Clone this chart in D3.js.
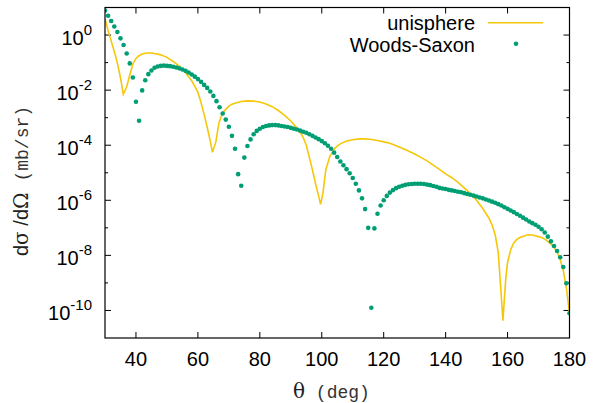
<!DOCTYPE html>
<html>
<head>
<meta charset="utf-8">
<script src="https://cdn.jsdelivr.net/npm/d3@7"></script>
<style>
  html, body { margin: 0; padding: 0; background: #fff; }
  svg { display: block; }
</style>
</head>
<body>
<svg id="chart" width="599" height="403"></svg>
<script>
// Scattering angle grid (deg) for the Woods-Saxon calculation
const wsTheta = [
  30, 31, 32, 33, 34, 35, 36, 37, 38, 39, 40, 41, 42, 43, 44, 45, 46, 47, 48, 49,
  50, 51, 52, 53, 54, 55, 56, 57, 58, 59, 60, 61, 62, 63, 64, 65, 66, 67, 68, 69,
  70, 71, 72, 73, 74, 75, 76, 77, 78, 79, 80, 81, 82, 83, 84, 85, 86, 87, 88, 89,
  90, 91, 92, 93, 94, 95, 96, 97, 98, 99, 100, 101, 102, 103, 104, 105, 106, 107, 108, 109,
  110, 111, 112, 113, 114, 115, 116, 117, 118, 119, 120, 121, 122, 123, 124, 125, 126, 127, 128, 129,
  130, 131, 132, 133, 134, 135, 136, 137, 138, 139, 140, 141, 142, 143, 144, 145, 146, 147, 148, 149,
  150, 151, 152, 153, 154, 155, 156, 157, 158, 159, 160, 161, 162, 163, 164, 165, 166, 167, 168, 169,
  170, 171, 172, 173, 174, 175, 176, 177, 178, 179, 180
];
// log10 of dσ/dΩ (mb/sr), Woods-Saxon potential
const wsLog10 = [
  0.89, 0.70, 0.51, 0.31, 0.11, -0.12, -0.36, -0.67, -1.03, -1.54,
  -2.42, -3.11, -2.01, -1.64, -1.42, -1.29, -1.19, -1.14, -1.12, -1.11,
  -1.12, -1.13, -1.15, -1.18, -1.21, -1.25, -1.30, -1.36, -1.43, -1.51,
  -1.60, -1.70, -1.81, -1.92, -2.05, -2.21, -2.40, -2.62, -2.85, -3.07,
  -3.33, -3.66, -4.13, -5.05, -5.47, -4.45, -4.03, -3.79, -3.60, -3.48,
  -3.40, -3.34, -3.30, -3.28, -3.27, -3.27, -3.28, -3.30, -3.32, -3.34,
  -3.37, -3.40, -3.43, -3.47, -3.51, -3.55, -3.60, -3.66, -3.72, -3.78,
  -3.85, -3.93, -4.02, -4.13, -4.27, -4.43, -4.59, -4.73, -4.87, -5.02,
  -5.19, -5.40, -5.64, -5.93, -6.32, -7.00, -9.90, -7.02, -6.49, -6.19,
  -6.00, -5.84, -5.72, -5.63, -5.56, -5.51, -5.47, -5.44, -5.42, -5.41,
  -5.40, -5.40, -5.40, -5.41, -5.43, -5.45, -5.48, -5.51, -5.55, -5.57,
  -5.59, -5.62, -5.64, -5.66, -5.69, -5.71, -5.74, -5.77, -5.80, -5.83,
  -5.86, -5.90, -5.93, -5.97, -6.01, -6.05, -6.09, -6.14, -6.19, -6.25,
  -6.31, -6.37, -6.43, -6.50, -6.56, -6.63, -6.70, -6.77, -6.83, -6.89,
  -6.96, -7.05, -7.17, -7.32, -7.49, -7.66, -7.84, -8.07, -8.42, -9.01,
  -10.10
];

// Uniform-sphere model: angle (deg) and log10 of dσ/dΩ (mb/sr)
const uniTheta = [
  30, 31, 32, 33, 34, 35, 35.9, 37, 38, 39, 40, 41, 42, 43, 44, 45, 46, 48, 50, 52,
  54, 56, 58, 59, 60, 61, 62, 63, 64, 64.7, 65.8, 66.8, 68, 69, 70, 71, 72.5, 74, 76, 78,
  80, 82, 84, 86, 88, 90, 92, 93, 94, 95, 96, 97, 98, 99, 99.6, 100.4, 101.3, 102.6, 104, 105,
  106, 108, 110, 112, 114, 116, 118, 120, 122, 124, 126, 128, 130, 132, 134, 136, 138, 140, 142, 144,
  146, 148, 150, 152, 154, 155, 156, 157, 157.6, 158.5, 159.4, 160, 161, 162, 163, 164, 166, 167, 168, 170,
  171, 172, 173, 174, 175, 176, 177, 178, 179, 180
];
const uniLog10 = [
  0.59, 0.17, -0.22, -0.60, -1.02, -1.55, -2.15, -1.88, -1.45, -1.05, -0.85, -0.75, -0.69, -0.66, -0.65, -0.65, -0.67, -0.72, -0.81, -0.96,
  -1.13, -1.37, -1.66, -1.86, -2.08, -2.45, -2.88, -3.35, -3.85, -4.26, -3.88, -3.18, -2.82, -2.70, -2.58, -2.51, -2.46, -2.41, -2.39, -2.40,
  -2.43, -2.50, -2.60, -2.74, -2.92, -3.12, -3.38, -3.52, -3.72, -4.00, -4.45, -4.90, -5.40, -5.85, -6.15, -5.73, -4.89, -4.41, -4.14, -4.03,
  -3.95, -3.85, -3.80, -3.77, -3.77, -3.79, -3.83, -3.88, -3.93, -4.02, -4.11, -4.21, -4.32, -4.44, -4.57, -4.72, -4.88, -5.04, -5.18, -5.35,
  -5.55, -5.76, -6.00, -6.30, -6.65, -6.90, -7.25, -7.90, -8.87, -10.37, -8.87, -8.25, -7.80, -7.55, -7.42, -7.35, -7.27, -7.25, -7.26, -7.32,
  -7.35, -7.41, -7.49, -7.59, -7.70, -7.88, -8.15, -8.55, -9.20, -10.10
];

const xTicks = [40, 60, 80, 100, 120, 140, 160, 180];
const yMajorExponents = [0, -2, -4, -6, -8, -10];
const yMinorExponents = [-1, -3, -5, -7, -9];
const seriesNames = ["unisphere", "Woods-Saxon"];

const colUni = "#f5c70a";
const colWS = "#009e73";

const svg = d3.select("#chart");
const L = 105, R = 569.5, T = 7.5, B = 338;

const x = d3.scaleLinear().domain([30, 180]).range([L, R]);
const y = d3.scaleLog().domain([1e-11, 10]).range([B, T]);

const sans = "'Liberation Sans', Arial, Helvetica, sans-serif";
const mono = "'Liberation Mono', 'Courier New', monospace";
const greek = "'DejaVu Serif', 'Liberation Serif', serif";

// clip to the plotting frame
svg.append("defs").append("clipPath").attr("id", "frame")
  .append("rect").attr("x", L).attr("y", T).attr("width", R - L).attr("height", B - T);

// inward ticks on all four sides
const tickG = svg.append("g").attr("stroke", "#000").attr("stroke-width", 1);
xTicks.forEach(t => {
  tickG.append("line").attr("x1", x(t)).attr("x2", x(t)).attr("y1", B).attr("y2", B - 6);
  tickG.append("line").attr("x1", x(t)).attr("x2", x(t)).attr("y1", T).attr("y2", T + 6);
});
yMajorExponents.forEach(e => {
  const yy = y(Math.pow(10, e));
  tickG.append("line").attr("x1", L).attr("x2", L + 6).attr("y1", yy).attr("y2", yy);
  tickG.append("line").attr("x1", R).attr("x2", R - 6).attr("y1", yy).attr("y2", yy);
});
yMinorExponents.forEach(e => {
  const yy = y(Math.pow(10, e));
  tickG.append("line").attr("x1", L).attr("x2", L + 3).attr("y1", yy).attr("y2", yy);
  tickG.append("line").attr("x1", R).attr("x2", R - 3).attr("y1", yy).attr("y2", yy);
});

// tick labels
const xLab = svg.append("g").attr("font-family", sans).attr("font-size", 20).attr("fill", "#000");
xTicks.forEach(t => {
  xLab.append("text").attr("x", x(t)).attr("y", 366).attr("text-anchor", "middle").text(t);
});
const yLab = svg.append("g").attr("font-family", sans).attr("fill", "#000");
yMajorExponents.forEach(e => {
  const yy = y(Math.pow(10, e));
  const txt = yLab.append("text").attr("x", 92).attr("y", yy + 9.5)
    .attr("text-anchor", "end").attr("font-size", 20);
  txt.append("tspan").text("10");
  txt.append("tspan").attr("dy", -9.5).attr("font-size", 15).text(e);
});

// uniform-sphere curve
const plot = svg.append("g").attr("clip-path", "url(#frame)");
const uniData = uniTheta.map((t, i) => [t, Math.pow(10, uniLog10[i])]);
plot.append("path")
  .datum(uniData)
  .attr("fill", "none")
  .attr("stroke", colUni)
  .attr("stroke-width", 1.6)
  .attr("stroke-linejoin", "miter")
  .attr("d", d3.line().x(d => x(d[0])).y(d => y(d[1])));

// Woods-Saxon points
const wsData = wsTheta.map((t, i) => [t, Math.pow(10, wsLog10[i])]);
plot.append("g").attr("fill", colWS)
  .selectAll("circle").data(wsData).join("circle")
  .attr("cx", d => x(d[0])).attr("cy", d => y(d[1])).attr("r", 2.3);

// frame
svg.append("rect").attr("x", L).attr("y", T).attr("width", R - L).attr("height", B - T)
  .attr("fill", "none").attr("stroke", "#000").attr("stroke-width", 1.2);

// legend
const leg = svg.append("g").attr("font-family", sans).attr("font-size", 20).attr("fill", "#000");
leg.append("text").attr("x", 475).attr("y", 30).attr("text-anchor", "end").text(seriesNames[0]);
leg.append("line").attr("x1", 488).attr("x2", 543).attr("y1", 22.7).attr("y2", 22.7)
  .attr("stroke", colUni).attr("stroke-width", 1.6);
leg.append("text").attr("x", 475).attr("y", 51.5).attr("text-anchor", "end").text(seriesNames[1]);
leg.append("circle").attr("cx", 516).attr("cy", 43.7).attr("r", 2.3).attr("fill", colWS);

// axis titles
const xt = svg.append("text").attr("x", 293).attr("y", 398).attr("fill", "#222");
xt.append("tspan").attr("font-family", greek).attr("font-size", 20).text("θ");
xt.append("tspan").attr("font-family", mono).attr("font-size", 18).attr("fill", "#333")
  .attr("xml:space", "preserve").text(" (deg)");

const yt = svg.append("text")
  .attr("transform", "translate(28,256) rotate(-90)")
  .attr("fill", "#222").attr("font-size", 20);
yt.append("tspan").attr("font-family", sans).text("d");
yt.append("tspan").attr("font-family", greek).text("σ");
yt.append("tspan").attr("font-family", sans).text(" /d");
yt.append("tspan").attr("font-family", greek).text("Ω");
yt.append("tspan").attr("font-family", mono).attr("font-size", 18).attr("fill", "#333")
  .text(" (mb/sr)");
</script>
</body>
</html>
